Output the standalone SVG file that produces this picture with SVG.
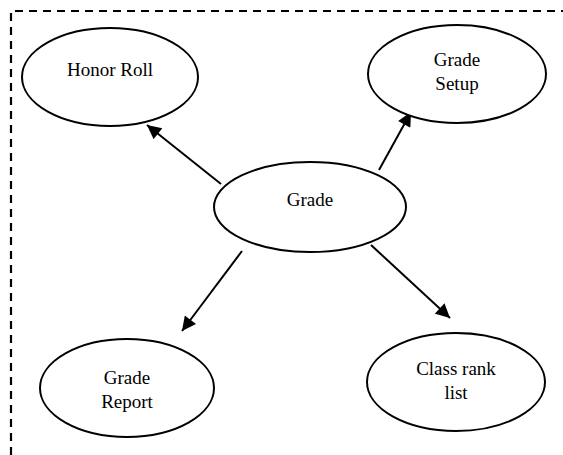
<svg xmlns="http://www.w3.org/2000/svg" width="563" height="455" viewBox="0 0 563 455">
  <style>
    .node ellipse { fill: #ffffff; stroke: #000000; stroke-width: 2; }
    .edge { stroke: #000000; stroke-width: 2; fill: none; marker-end: url(#arrow); }
    .frame { stroke: #000000; stroke-width: 2.2; fill: none; stroke-dasharray: 8 6; }
  </style>
  <defs>
    <marker id="arrow" viewBox="0 0 10 10" refX="10" refY="5" markerWidth="7.5" markerHeight="7" markerUnits="strokeWidth" orient="auto">
      <path d="M0,0 L10,5 L0,10 Z" fill="#000000"/>
    </marker>
  </defs>
  <rect width="563" height="455" fill="#ffffff"/>

  <!-- dashed boundary: top and left edges -->
  <path class="frame" d="M11,455 L11,11 L563,11"/>

  <g id="connectors">
    <line class="edge" x1="221" y1="184" x2="147" y2="125"/>
    <line class="edge" x1="379" y1="170" x2="411" y2="112"/>
    <line class="edge" x1="242" y1="251" x2="182" y2="331"/>
    <line class="edge" x1="371" y1="245" x2="450" y2="318"/>
  </g>

  <g font-family="'Liberation Serif', 'Times New Roman', serif" font-size="19" fill="#000000" text-anchor="middle">
    <g id="honor-roll" class="node">
      <ellipse cx="110" cy="77" rx="88" ry="49"/>
      <text x="110" y="76">Honor Roll</text>
    </g>

    <g id="grade-setup" class="node">
      <ellipse cx="457" cy="74" rx="89" ry="49"/>
      <text x="457" y="66">Grade</text>
      <text x="457" y="90">Setup</text>
    </g>

    <g id="grade" class="node">
      <ellipse cx="310" cy="207" rx="96" ry="45"/>
      <text x="310" y="206">Grade</text>
    </g>

    <g id="grade-report" class="node">
      <ellipse cx="127" cy="388" rx="87" ry="49"/>
      <text x="127" y="384">Grade</text>
      <text x="127" y="408">Report</text>
    </g>

    <g id="class-rank-list" class="node">
      <ellipse cx="456" cy="382" rx="89" ry="49"/>
      <text x="456" y="375">Class rank</text>
      <text x="456" y="399">list</text>
    </g>
  </g>
</svg>
